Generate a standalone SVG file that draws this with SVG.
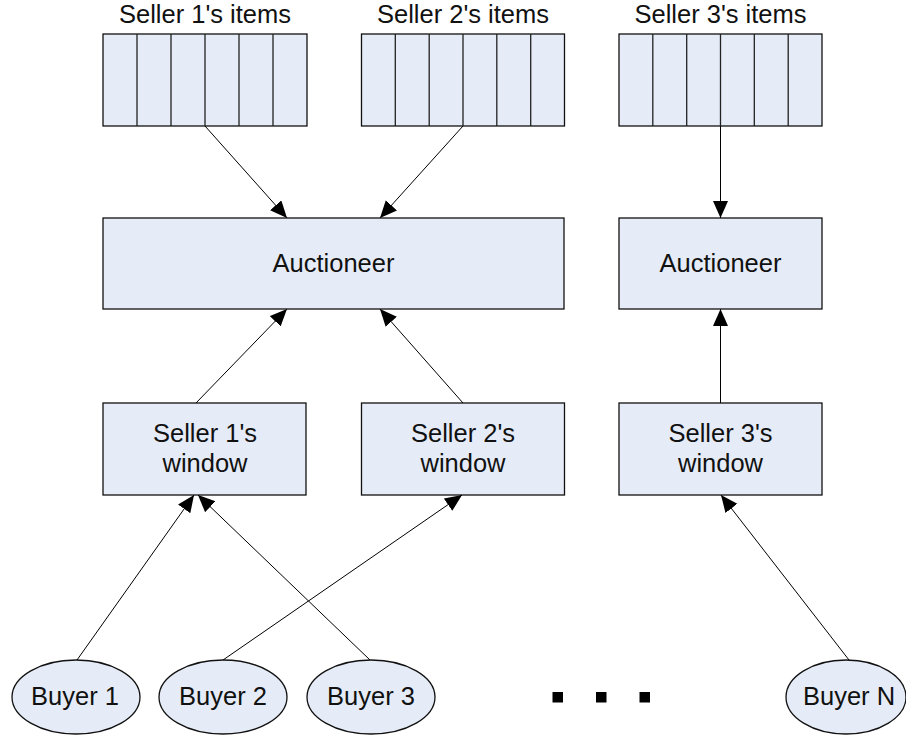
<svg xmlns="http://www.w3.org/2000/svg" width="906" height="736" viewBox="0 0 906 736">
<defs>
<style>
.box{fill:#E6ECF7;stroke:#111;stroke-width:1.3}
.div{stroke:#222;stroke-width:1.3}
.t{font-family:"Liberation Sans",Arial,sans-serif;font-size:25.5px;fill:#111;text-anchor:middle}
.c{stroke:#000;stroke-width:1;fill:none;marker-end:url(#ah)}
</style>
<marker id="ah" markerUnits="userSpaceOnUse" markerWidth="18" markerHeight="16" refX="17" refY="7.5" orient="auto">
<path d="M0,0 L17,7.5 L0,15 z" fill="#000"/>
</marker>
</defs>
<rect width="906" height="736" fill="#fff"/>

<g id="items1">
<text class="t" x="205" y="23">Seller 1's items</text>
<rect class="box" x="103" y="34" width="204" height="92"/>
<path class="div" d="M137,34V126M171,34V126M205,34V126M239,34V126M273,34V126"/>
</g>
<g id="items2">
<text class="t" x="463" y="23">Seller 2's items</text>
<rect class="box" x="361.5" y="34" width="203" height="92"/>
<path class="div" d="M395.3,34V126M429.2,34V126M463,34V126M496.8,34V126M530.7,34V126"/>
</g>
<g id="items3">
<text class="t" x="720.5" y="23">Seller 3's items</text>
<rect class="box" x="619" y="34" width="203" height="92"/>
<path class="div" d="M652.8,34V126M686.7,34V126M720.5,34V126M754.3,34V126M788.2,34V126"/>
</g>

<g id="auctioneer1">
<rect class="box" x="103" y="218" width="461" height="91"/>
<text class="t" x="333.5" y="272">Auctioneer</text>
</g>
<g id="auctioneer2">
<rect class="box" x="619" y="218" width="203" height="91"/>
<text class="t" x="720.5" y="272">Auctioneer</text>
</g>

<g id="window1">
<rect class="box" x="103" y="403" width="203" height="92"/>
<text class="t" x="205" y="442">Seller 1's</text>
<text class="t" x="205" y="472">window</text>
</g>
<g id="window2">
<rect class="box" x="361.5" y="403" width="203" height="92"/>
<text class="t" x="463" y="442">Seller 2's</text>
<text class="t" x="463" y="472">window</text>
</g>
<g id="window3">
<rect class="box" x="619" y="403" width="203" height="92"/>
<text class="t" x="720.5" y="442">Seller 3's</text>
<text class="t" x="720.5" y="472">window</text>
</g>

<g id="buyer1">
<ellipse class="box" cx="76" cy="697" rx="64" ry="37"/>
<text class="t" x="75" y="705">Buyer 1</text>
</g>
<g id="buyer2">
<ellipse class="box" cx="223" cy="697" rx="64" ry="37"/>
<text class="t" x="223" y="705">Buyer 2</text>
</g>
<g id="buyer3">
<ellipse class="box" cx="371" cy="697" rx="64" ry="37"/>
<text class="t" x="371" y="705">Buyer 3</text>
</g>
<g id="buyerN">
<ellipse class="box" cx="846" cy="697" rx="60" ry="37"/>
<text class="t" x="849" y="705">Buyer N</text>
</g>

<g id="ellipsis" fill="#000">
<rect x="552.5" y="692" width="10.5" height="10.5"/>
<rect x="596" y="692" width="10.5" height="10.5"/>
<rect x="639.5" y="692" width="10.5" height="10.5"/>
</g>

<g id="connectors">
<line class="c" x1="205" y1="126" x2="287" y2="218"/>
<line class="c" x1="463" y1="126" x2="380" y2="218"/>
<line class="c" x1="720.5" y1="126" x2="720.5" y2="218"/>
<line class="c" x1="196" y1="403" x2="287" y2="309"/>
<line class="c" x1="463" y1="403" x2="380" y2="309"/>
<line class="c" x1="720.5" y1="403" x2="720.5" y2="309"/>
<line class="c" x1="77" y1="660" x2="194" y2="495"/>
<line class="c" x1="370" y1="660" x2="198" y2="495"/>
<line class="c" x1="223" y1="660" x2="462" y2="495"/>
<line class="c" x1="849" y1="660" x2="721" y2="495"/>
</g>
</svg>
